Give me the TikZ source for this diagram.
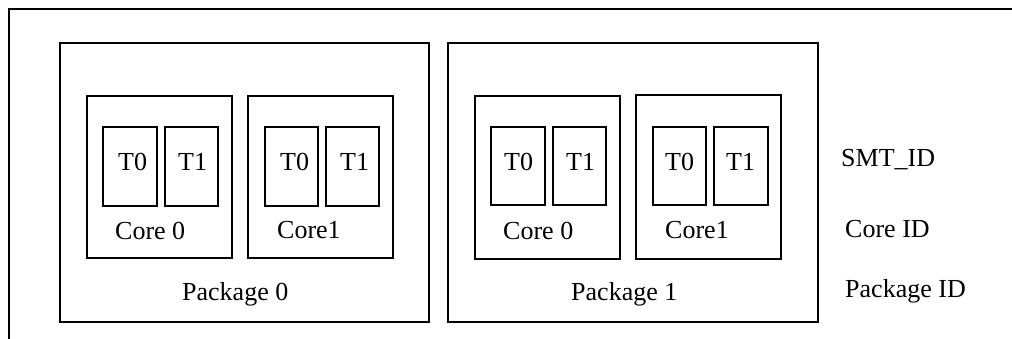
\documentclass[tikz,border=0pt]{standalone}
\usepackage{fontspec}
\setmainfont{Liberation Serif}
\begin{document}
\begin{tikzpicture}[x=1pt,y=-1pt,
  box/.style={draw=black, line width=2pt, inner sep=0pt, anchor=north west},
  lbl/.style={inner sep=0pt, anchor=base west, font=\fontsize{26}{30}\selectfont}]
\useasboundingbox (0,0) rectangle (1012,339);
% outer frame
\coordinate (fr) at (1012,9);
\coordinate (fc) at (9,9);
\coordinate (fb) at (9,339);
\draw[line width=2pt] (fr) -- (fc) -- (fb);
% packages
\node[box, minimum width=369pt, minimum height=279pt] (p0) at (59,42) {};
\node[box, minimum width=370pt, minimum height=279pt] (p1) at (447,42) {};
% cores
\node[box, minimum width=145pt, minimum height=162pt] (c00) at (86,95) {};
\node[box, minimum width=145pt, minimum height=162pt] (c01) at (247,95) {};
\node[box, minimum width=145pt, minimum height=163pt] (c10) at (474,95) {};
\node[box, minimum width=145pt, minimum height=164pt] (c11) at (635,94) {};
% threads
\node[box, minimum width=54pt, minimum height=79pt] (t000) at (102,126) {};
\node[box, minimum width=53pt, minimum height=79pt] (t001) at (164,126) {};
\node[box, minimum width=53pt, minimum height=79pt] (t010) at (264,126) {};
\node[box, minimum width=53pt, minimum height=79pt] (t011) at (325,126) {};
\node[box, minimum width=54pt, minimum height=78pt] (t100) at (490,126) {};
\node[box, minimum width=53pt, minimum height=78pt] (t101) at (552,126) {};
\node[box, minimum width=53pt, minimum height=78pt] (t110) at (652,126) {};
\node[box, minimum width=54pt, minimum height=78pt] (t111) at (713,126) {};
% thread labels
\node[lbl] (l000) at (118,171) {T0};
\node[lbl] (l001) at (178,171) {T1};
\node[lbl] (l010) at (280,171) {T0};
\node[lbl] (l011) at (340,171) {T1};
\node[lbl] (l100) at (504,171) {T0};
\node[lbl] (l101) at (566,171) {T1};
\node[lbl] (l110) at (665,171) {T0};
\node[lbl] (l111) at (726,171) {T1};
% core labels
\node[lbl] (lc00) at (115,240) {Core 0};
\node[lbl] (lc01) at (277,239) {Core1};
\node[lbl] (lc10) at (503,240) {Core 0};
\node[lbl] (lc11) at (665,239) {Core1};
% package labels
\node[lbl] (lp0) at (182,300) {Package 0};
\node[lbl] (lp1) at (571,300) {Package 1};
% legend
\node[lbl] (smt) at (841,167) {SMT\_ID};
\node[lbl] (cid) at (845,237) {Core ID};
\node[lbl] (pid) at (845,297) {Package ID};
\end{tikzpicture}
\end{document}
